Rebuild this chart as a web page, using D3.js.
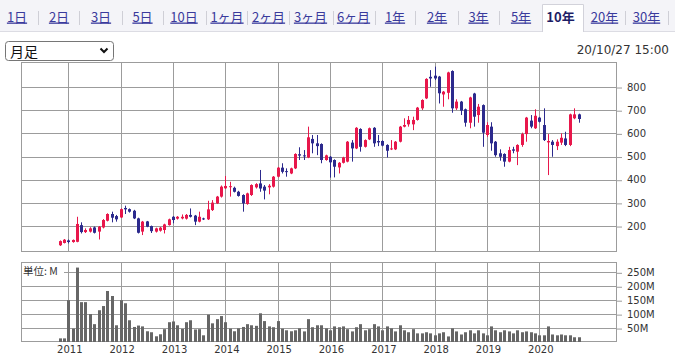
<!DOCTYPE html>
<html><head><meta charset="utf-8">
<script src="https://cdn.jsdelivr.net/npm/d3@7"></script>
<style>body{margin:0;background:#fff;} svg{display:block}</style>
</head><body><svg id="c" width="675" height="355"></svg>
<script>
// ---------- data ----------
const tabLabels = ["1日","2日","3日","5日","10日","1ヶ月","2ヶ月","3ヶ月","6ヶ月","1年","2年","3年","5年","10年","20年","30年"];
const selectedTab = "10年";
const periodLabel = "月足";
const timestamp = "20/10/27 15:00";
const volumeUnit = "単位: M";
const firstMonth = "2010-11";
const lastMonth = "2020-10";
const yearLabels = ["2011","2012","2013","2014","2015","2016","2017","2018","2019","2020"];
const priceTicks = [200,300,400,500,600,700,800];
const volumeTicks = [50,100,150,200,250];

const open = [117,127,138,131,132,204,174,176,194,176,194,223,252,243,
 237,278,273,266,233,176,220,200,176,180,183,204,
 240,232,233,232,248,245,219,233,229,269,298,327,
 363,368,365,348,334,295,334,367,384,370,367,370,
 413,452,437,427,449,510,505,496,576,557,554,485,
 499,485,453,473,478,560,535,619,542,574,624,567,
 567,550,531,531,564,629,639,639,658,708,751,844,
 849,845,768,775,869,708,737,704,646,772,679,722,
 593,629,564,514,511,478,531,521,550,597,655,622,
 668,636,561,564,545,560,578,550,665,682];
const high = [138,144,142,142,240,216,190,195,198,200,230,255,262,248,
 276,288,276,270,236,222,222,202,193,196,210,232,
 243,243,250,252,276,248,262,236,309,312,330,375,
 416,391,370,352,337,344,380,385,442,377,381,416,
 455,471,449,452,514,540,528,629,593,593,557,508,
 502,488,476,499,567,571,627,622,574,625,627,593,
 570,553,571,567,632,665,675,672,714,747,838,873,
 888,848,783,866,872,747,740,707,758,775,727,725,
 648,648,567,531,514,542,542,553,603,671,679,704,
 671,708,597,571,574,600,607,685,708,685];
const low = [114,125,125,128,130,168,170,172,168,142,190,220,216,219,
 235,252,258,230,168,161,195,170,172,176,168,202,
 212,228,229,228,237,204,216,226,226,265,295,323,
 360,327,345,327,262,292,330,362,348,315,337,366,
 410,427,413,424,446,485,485,493,514,506,471,482,
 409,410,427,470,475,478,532,521,539,571,542,545,
 544,496,528,528,561,626,629,614,655,701,748,801,
 830,729,715,747,689,701,679,629,622,629,646,542,
 585,525,499,482,456,475,514,463,542,564,622,619,
 647,567,420,499,528,550,545,545,661,646];
const close = [135,141,131,140,209,174,183,190,171,197,226,252,236,229,
 273,272,262,233,171,219,197,178,190,193,207,229,
 226,240,240,248,240,219,240,229,272,301,327,370,
 373,372,348,330,298,341,377,381,362,353,374,413,
 452,434,433,449,511,504,502,583,557,545,485,505,
 475,456,473,496,564,535,624,542,571,622,557,561,
 547,525,535,564,629,636,658,658,711,744,835,837,
 837,773,780,863,708,737,698,646,755,672,715,603,
 636,557,506,499,478,528,525,550,597,668,629,676,
 650,571,567,550,564,581,550,682,682,662];
const volume = [13,13,150,48,267,143,143,100,64,114,129,183,165,60,
 150,139,78,54,59,56,38.5,35,20.5,27.7,46,71,
 73.7,60,47,71,78,45,46,24,98,67,82,93,
 71,48,38.5,49,54,64,60,58,103,75,56,53,
 75,48,42,38.5,42,49,38,82,53,60,60,49,
 42,56,53,56,46,38,53,64,42,46,64,56,
 42,56,49,38,60,42,35,46,31,31,35,31,
 24,31,35,20,49,38,27,35,42,31,42,31,
 24,56,42,35,42,38,31,42,35,38,35,31,
 24,24,56,27,24,27,24,24,17,17];

// ---------- layout ----------
const svg = d3.select("#c");
const W = 675, H = 355;
const L = 21, R = 617;
const pTop = 62, pBot = 252, vTop = 262, vBot = 342;
const UP = "#e8174b", DOWN = "#2c2a8d", GRID = "#9c9c9c";
const NUM_FONT = "'DejaVu Sans', Verdana, sans-serif";
const JP_FONT = "'Noto Sans CJK JP', sans-serif";

const parseMonth = d3.timeParse("%Y-%m");
const months = d3.timeMonth.range(parseMonth(firstMonth), d3.timeMonth.offset(parseMonth(lastMonth), 1));
const bars = months.map((d, i) => ({date: d, o: open[i], h: high[i], l: low[i], c: close[i], v: volume[i]}));
const yearDates = yearLabels.map(y => new Date(+y, 0, 1));

const x = d3.scaleTime().domain([yearDates[0], yearDates[yearDates.length - 1]]).range([68.3, 539.3]);
const yP = d3.scaleLinear().domain([88, 908]).range([pBot, pTop]);
const yV = d3.scaleLinear().domain([0, 287]).range([vBot, vTop]);

// ---------- tabs ----------
svg.append("rect").attr("x", 0).attr("y", 0).attr("width", W).attr("height", 31).attr("fill", "#f4f4f8");
svg.append("line").attr("x1", 0).attr("x2", W).attr("y1", 31.5).attr("y2", 31.5).attr("stroke", "#dcdce3");
const tabCenters = [17,59,101,142.5,184,227,268.5,310.5,353.5,395,437,478.5,521,560.5,604.5,646.5];
const sepX = [38,79,122,163,206,247,289,333,375,415,458,499,625,668];
sepX.forEach(sx => svg.append("line").attr("x1", sx + 0.5).attr("x2", sx + 0.5).attr("y1", 11).attr("y2", 25).attr("stroke", "#cfcfd6"));
tabLabels.forEach((t, i) => {
  const sel = t === selectedTab;
  if (sel) {
    svg.append("path").attr("d", `M542.5,32 V4.5 H583.5 V32`).attr("fill", "#fff").attr("stroke", "#d2d2da");
    svg.append("rect").attr("x", 543).attr("y", 30).attr("width", 40).attr("height", 3).attr("fill", "#fff");
  }
  svg.append("text").attr("x", tabCenters[i]).attr("y", 21.5).attr("text-anchor", "middle")
    .attr("font-family", JP_FONT).attr("font-size", 13)
    .attr("font-weight", sel ? "bold" : "normal")
    .attr("fill", sel ? "#1e1e66" : "#3a3a9c")
    .attr("text-decoration", sel ? "none" : "underline")
    .text(t);
});

// ---------- select box & timestamp ----------
svg.append("rect").attr("x", 5.5).attr("y", 41.5).attr("width", 108).attr("height", 19).attr("rx", 3)
  .attr("fill", "#fff").attr("stroke", "#767676");
svg.append("text").attr("x", 10).attr("y", 56.5).attr("font-family", JP_FONT).attr("font-size", 14).attr("fill", "#111").text(periodLabel);
svg.append("path").attr("d", "M100.5,48.5 L104,52 L107.5,48.5").attr("fill", "none").attr("stroke", "#111").attr("stroke-width", 2);
svg.append("text").attr("x", 669).attr("y", 54).attr("text-anchor", "end").attr("font-family", NUM_FONT).attr("font-size", 12).attr("fill", "#333").text(timestamp);

// ---------- grids ----------
function panel(top, bot, yScale, ticks, fmt) {
  const g = svg.append("g");
  g.selectAll("line.h").data(ticks).join("line")
    .attr("x1", L).attr("x2", R)
    .attr("y1", d => Math.round(yScale(d)) + 0.5).attr("y2", d => Math.round(yScale(d)) + 0.5)
    .attr("stroke", GRID);
  g.selectAll("line.v").data(yearDates).join("line")
    .attr("x1", d => Math.round(x(d)) + 0.5).attr("x2", d => Math.round(x(d)) + 0.5)
    .attr("y1", top).attr("y2", bot).attr("stroke", GRID);
  g.append("rect").attr("x", L + 0.5).attr("y", top + 0.5).attr("width", R - L - 1).attr("height", bot - top - 1)
    .attr("fill", "none").attr("stroke", GRID);
  const ax = g.append("g").attr("transform", `translate(${R},0)`)
    .call(d3.axisRight(yScale).tickValues(ticks).tickSize(5).tickPadding(5).tickFormat(fmt));
  ax.select(".domain").remove();
  ax.selectAll("line").attr("stroke", GRID).attr("transform", "translate(0,0.5)");
  ax.selectAll("text").attr("font-family", NUM_FONT).attr("font-size", 10).attr("fill", "#333");
  return g;
}
panel(pTop, pBot, yP, priceTicks, d => d);
panel(vTop, vBot, yV, volumeTicks, d => d + "M");

// year labels
const xa = svg.append("g").attr("transform", `translate(1,${vBot})`)
  .call(d3.axisBottom(x).tickValues(yearDates).tickSize(0).tickPadding(3.5).tickFormat(d3.timeFormat("%Y")));
xa.select(".domain").remove();
xa.selectAll("text").attr("font-family", NUM_FONT).attr("font-size", 10).attr("fill", "#333");

// ---------- candles ----------
const cg = svg.append("g");
bars.forEach(b => {
  const cx = Math.round(x(b.date));
  const col = b.c >= b.o ? UP : DOWN;
  cg.append("line").attr("x1", cx + 0.5).attr("x2", cx + 0.5)
    .attr("y1", yP(b.h)).attr("y2", yP(b.l)).attr("stroke", col).attr("stroke-width", 1);
  const y1 = yP(Math.max(b.o, b.c)), y2 = yP(Math.min(b.o, b.c));
  cg.append("rect").attr("x", cx - 1).attr("width", 3)
    .attr("y", y1).attr("height", Math.max(1, y2 - y1)).attr("fill", col);
});

// ---------- volume ----------
svg.append("rect").attr("x", 22).attr("y", 264).attr("width", 42).attr("height", 13).attr("fill", "#fff");
svg.append("text").attr("x", 23).attr("y", 274.5).attr("font-family", JP_FONT).attr("font-size", 10.5).attr("fill", "#333").text(volumeUnit);
svg.append("g").selectAll("rect").data(bars).join("rect")
  .attr("x", d => Math.round(x(d.date)) - 1).attr("width", 3)
  .attr("y", d => yV(d.v)).attr("height", d => vBot - yV(d.v))
  .attr("fill", "#666");
</script></body></html>
